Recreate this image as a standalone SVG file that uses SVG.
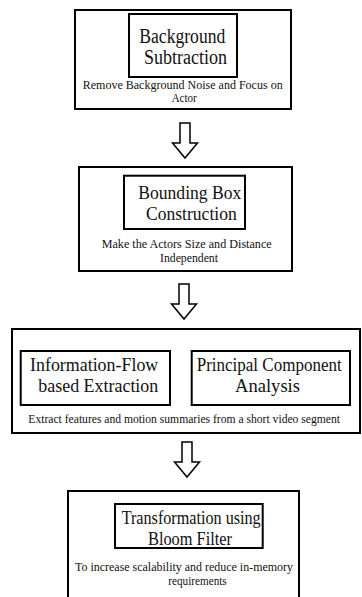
<svg xmlns="http://www.w3.org/2000/svg" width="362" height="597" viewBox="0 0 362 597">
<style>
.box{fill:none;stroke:#000;stroke-width:2}
.h{font-family:"Liberation Serif","Times New Roman",serif;font-size:19px;fill:#111}
.h20{font-size:20.5px}
.s{font-family:"Liberation Serif","Times New Roman",serif;font-size:11.5px;fill:#111}
.arr{fill:#fff;stroke:#000;stroke-width:1.5;stroke-linejoin:miter}
</style>
<defs>
<path id="blk" d="M-5,0 H5 V20 H12.5 L0,35 L-12.5,20 H-5 Z"/>
</defs>
<rect width="362" height="597" fill="#fff"/>
<g id="node-bg">
<rect class="box" x="75" y="10" width="216" height="99"/>
<rect class="box" x="129" y="14" width="108" height="63"/>
<text class="h h20" x="139.3" y="43" textLength="86" lengthAdjust="spacingAndGlyphs">Background</text>
<text class="h h20" x="144" y="63.5" textLength="83" lengthAdjust="spacingAndGlyphs">Subtraction</text>
<text class="s" x="82.7" y="89" textLength="200" lengthAdjust="spacingAndGlyphs">Remove Background Noise and Focus on</text>
<text class="s" x="171.7" y="102" textLength="25" lengthAdjust="spacingAndGlyphs">Actor</text>
</g>
<g id="node-bbox">
<rect class="box" x="79" y="167" width="213" height="104"/>
<rect class="box" x="124" y="175.7" width="121" height="53.3"/>
<text class="h" x="138.3" y="199" textLength="103" lengthAdjust="spacingAndGlyphs">Bounding Box</text>
<text class="h" x="146" y="220" textLength="90.7" lengthAdjust="spacingAndGlyphs">Construction</text>
<text class="s" x="101.7" y="248" textLength="170" lengthAdjust="spacingAndGlyphs">Make the Actors Size and Distance</text>
<text class="s" x="160" y="261.5" textLength="58" lengthAdjust="spacingAndGlyphs">Independent</text>
</g>
<g id="node-extract">
<rect class="box" x="12" y="329" width="348" height="104"/>
<g id="node-info">
<rect class="box" x="20.7" y="351" width="149.3" height="54"/>
<text class="h" x="30" y="371" textLength="128.3" lengthAdjust="spacingAndGlyphs">Information-Flow</text>
<text class="h" x="38.3" y="392" textLength="120" lengthAdjust="spacingAndGlyphs">based Extraction</text>
</g>
<g id="node-pca">
<rect class="box" x="191.7" y="351" width="158.3" height="54"/>
<text class="h" x="196.7" y="371" textLength="145" lengthAdjust="spacingAndGlyphs">Principal Component</text>
<text class="h" x="235" y="392" textLength="65" lengthAdjust="spacingAndGlyphs">Analysis</text>
</g>
<text class="s" x="28.3" y="423" textLength="311.7" lengthAdjust="spacingAndGlyphs">Extract features and motion summaries from a short video segment</text>
</g>
<g id="node-bloom">
<rect class="box" x="68" y="491" width="231" height="120"/>
<rect class="box" x="115" y="504" width="147.7" height="44"/>
<text class="h" x="121.7" y="524.3" textLength="139" lengthAdjust="spacingAndGlyphs">Transformation using</text>
<text class="h" x="190" y="545" text-anchor="middle" textLength="84" lengthAdjust="spacingAndGlyphs">Bloom Filter</text>
<text class="s" x="75" y="571" textLength="218" lengthAdjust="spacingAndGlyphs">To increase scalability and reduce in-memory</text>
<text class="s" x="168.3" y="585" textLength="58.4" lengthAdjust="spacingAndGlyphs">requirements</text>
</g>
<g id="connectors">
<use href="#blk" class="arr" transform="translate(185,123)"/>
<use href="#blk" class="arr" transform="translate(184,284)"/>
<use href="#blk" class="arr" transform="translate(187,442)"/>
</g>
</svg>
